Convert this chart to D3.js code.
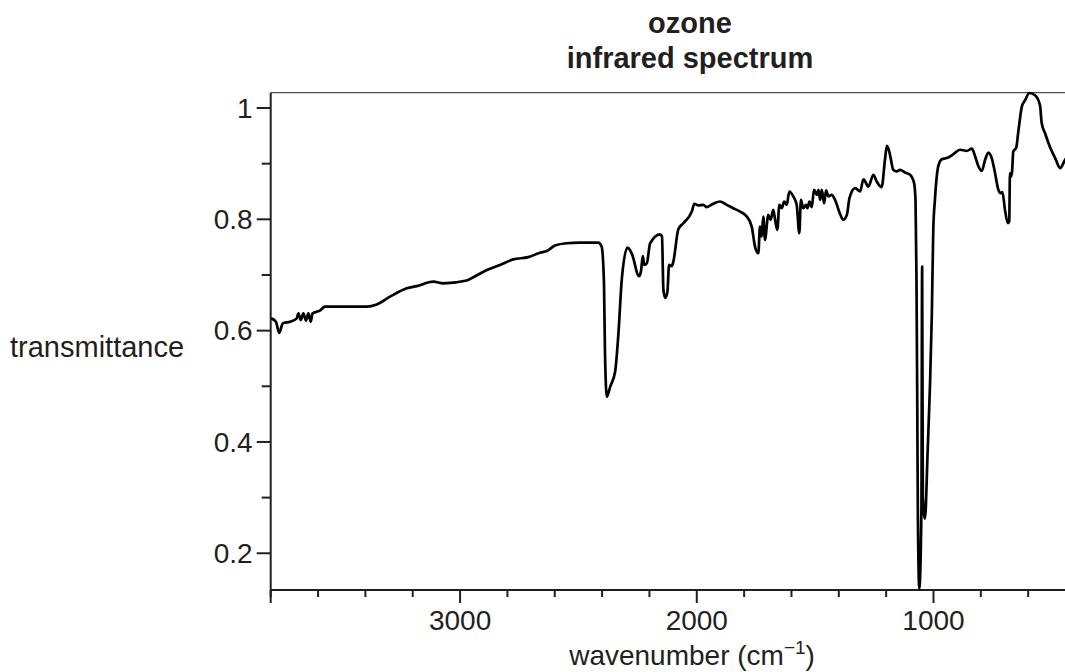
<!DOCTYPE html>
<html>
<head>
<meta charset="utf-8">
<script src="https://cdn.jsdelivr.net/npm/d3@7"></script>
<style>
  html, body { margin: 0; padding: 0; background: #fff; }
  svg { display: block; }
  text { font-family: "Liberation Sans", Arial, Helvetica, sans-serif; fill: #231f20; }
</style>
</head>
<body>
<script>
// spectrum: wavenumber (cm-1) and transmittance
const wavenumber = [
  3798, 3778, 3764, 3749, 3718, 3690, 3683, 3673, 3662, 3651, 3641, 3631, 3623, 3606, 3592, 3571,
  3394, 3352, 3296, 3225, 3183, 3113, 3071, 2972, 2944, 2887, 2831, 2775, 2712, 2662, 2634, 2599,
  2550, 2493, 2416, 2402, 2392, 2388, 2380, 2366, 2345, 2331, 2317, 2293, 2275, 2244, 2236, 2228,
  2222, 2211, 2197, 2155, 2147, 2141, 2133, 2124, 2117, 2106, 2099, 2078, 2057, 2021, 2010, 1993,
  1972, 1958, 1930, 1902, 1873, 1846, 1817, 1789, 1768, 1754, 1740, 1733, 1726, 1719, 1712, 1698,
  1688, 1677, 1669, 1660, 1651, 1641, 1631, 1620, 1609, 1592, 1578, 1567, 1560, 1550, 1538, 1533,
  1524, 1514, 1505, 1493, 1486, 1479, 1472, 1462, 1454, 1444, 1430, 1416, 1395, 1381, 1366, 1355,
  1331, 1310, 1296, 1275, 1254, 1240, 1219, 1205, 1197, 1187, 1181, 1170, 1155, 1141, 1120, 1099,
  1082, 1076, 1072, 1069, 1066, 1060, 1051, 1048, 1045, 1036, 1025, 1015, 1007, 1001, 994, 980,
  965, 944, 916, 888, 859, 838, 824, 810, 796, 782, 768, 754, 740, 726, 716, 709,
  698, 686, 680, 677, 672, 668, 663, 651, 641, 627, 613, 595, 571, 550, 543, 529,
  508, 486, 465, 444, 430
];
const transmittance = [
  0.622, 0.616, 0.596, 0.613, 0.616, 0.622, 0.631, 0.619, 0.631, 0.618, 0.631, 0.616, 0.631, 0.634, 0.636, 0.643,
  0.643, 0.647, 0.661, 0.676, 0.680, 0.688, 0.685, 0.690, 0.696, 0.709, 0.718, 0.728, 0.732, 0.740, 0.743, 0.753,
  0.757, 0.758, 0.758, 0.751, 0.685, 0.565, 0.481, 0.499, 0.526, 0.595, 0.691, 0.749, 0.739, 0.698, 0.706, 0.734,
  0.718, 0.721, 0.757, 0.773, 0.769, 0.673, 0.659, 0.670, 0.718, 0.716, 0.724, 0.782, 0.793, 0.814, 0.828, 0.825,
  0.826, 0.822, 0.828, 0.832, 0.826, 0.820, 0.814, 0.805, 0.787, 0.751, 0.739, 0.787, 0.769, 0.805, 0.763, 0.808,
  0.799, 0.817, 0.799, 0.781, 0.826, 0.820, 0.832, 0.826, 0.850, 0.841, 0.826, 0.775, 0.835, 0.820, 0.826, 0.820,
  0.832, 0.822, 0.853, 0.844, 0.853, 0.835, 0.853, 0.829, 0.852, 0.841, 0.844, 0.835, 0.810, 0.799, 0.808, 0.838,
  0.856, 0.850, 0.872, 0.859, 0.880, 0.868, 0.858, 0.907, 0.932, 0.922, 0.910, 0.889, 0.886, 0.889, 0.884, 0.880,
  0.865, 0.835, 0.700, 0.500, 0.270, 0.137, 0.280, 0.715, 0.300, 0.262, 0.380, 0.500, 0.630, 0.780, 0.835, 0.895,
  0.908, 0.910, 0.917, 0.925, 0.923, 0.927, 0.913, 0.895, 0.887, 0.907, 0.920, 0.910, 0.883, 0.853, 0.847, 0.849,
  0.817, 0.793, 0.797, 0.883, 0.877, 0.886, 0.922, 0.928, 0.960, 1.002, 1.014, 1.027, 1.023, 1.005, 0.973, 0.955,
  0.930, 0.910, 0.892, 0.907, 0.915
];

const xMajor = [3000, 2000, 1000];
const xMinor = [3800, 3600, 3400, 3200, 2800, 2600, 2400, 2200, 1800, 1600, 1400, 1200, 800, 600];
const yMajor = [0.2, 0.4, 0.6, 0.8, 1];
const yMinor = [0.3, 0.5, 0.7, 0.9];

const width = 1065, height = 672;
const plotLeft = 270.7, plotTop = 92.7, plotBottom = 590, plotRight = 1113.4;

const svg = d3.select("body").append("svg")
    .attr("width", width)
    .attr("height", height);

// the original plot runs past the right edge of the picture
const x = d3.scaleLinear().domain([3800, 240]).range([plotLeft, plotRight]);
const y = d3.scaleLinear().domain([0.134, 1.0275]).range([plotBottom, plotTop]);
const midX = (plotLeft + plotRight) / 2;

const ink = "#231f20";

// frame
svg.append("line")
    .attr("x1", plotLeft).attr("x2", width)
    .attr("y1", plotTop).attr("y2", plotTop)
    .attr("stroke", ink).attr("stroke-width", 1);

svg.append("line")
    .attr("x1", plotLeft).attr("x2", plotLeft)
    .attr("y1", plotTop).attr("y2", plotBottom + 13)
    .attr("stroke", ink).attr("stroke-width", 2);

svg.append("line")
    .attr("x1", plotLeft).attr("x2", width)
    .attr("y1", plotBottom).attr("y2", plotBottom)
    .attr("stroke", ink).attr("stroke-width", 2);

// x ticks
svg.append("g").selectAll("line")
    .data(xMajor.map(d => ({v: d, len: 13})).concat(xMinor.map(d => ({v: d, len: 7}))))
    .enter().append("line")
    .attr("x1", d => x(d.v)).attr("x2", d => x(d.v))
    .attr("y1", plotBottom).attr("y2", d => plotBottom + d.len)
    .attr("stroke", ink).attr("stroke-width", 2);

svg.append("g").selectAll("text")
    .data(xMajor)
    .enter().append("text")
    .attr("x", d => x(d))
    .attr("y", 630)
    .attr("text-anchor", "middle")
    .style("font-size", "28px")
    .text(d => d);

// y ticks
svg.append("g").selectAll("line")
    .data(yMajor.map(d => ({v: d, len: 14})).concat(yMinor.map(d => ({v: d, len: 9}))))
    .enter().append("line")
    .attr("x1", d => plotLeft - d.len).attr("x2", plotLeft)
    .attr("y1", d => y(d.v)).attr("y2", d => y(d.v))
    .attr("stroke", ink).attr("stroke-width", 2);

svg.append("g").selectAll("text")
    .data(yMajor)
    .enter().append("text")
    .attr("x", plotLeft - 18)
    .attr("y", d => y(d))
    .attr("dy", "0.35em")
    .attr("text-anchor", "end")
    .style("font-size", "28px")
    .text(d => d === 1 ? "1" : d.toFixed(1));

// spectrum
const points = wavenumber.map((w, i) => [w, transmittance[i]]);

svg.append("path")
    .datum(points)
    .attr("fill", "none")
    .attr("stroke", "#000")
    .attr("stroke-width", 2.7)
    .attr("stroke-linejoin", "round")
    .attr("d", d3.line()
        .x(d => x(d[0]))
        .y(d => y(d[1]))
        .curve(d3.curveMonotoneX));

// labels
svg.append("text")
    .attr("x", 10).attr("y", 357)
    .style("font-size", "29px")
    .text("transmittance");

const xl = svg.append("text")
    .attr("x", midX).attr("y", 665)
    .attr("text-anchor", "middle")
    .style("font-size", "28px");
xl.append("tspan").text("wavenumber (cm");
xl.append("tspan").attr("dy", -11).style("font-size", "19px").text("\u22121");
xl.append("tspan").attr("dy", 11).text(")");

const title = svg.append("text")
    .attr("text-anchor", "middle")
    .style("font-size", "29px")
    .style("font-weight", "bold");
title.append("tspan").attr("x", 690).attr("y", 33).text("ozone");
title.append("tspan").attr("x", 690).attr("y", 68).text("infrared spectrum");
</script>
</body>
</html>
